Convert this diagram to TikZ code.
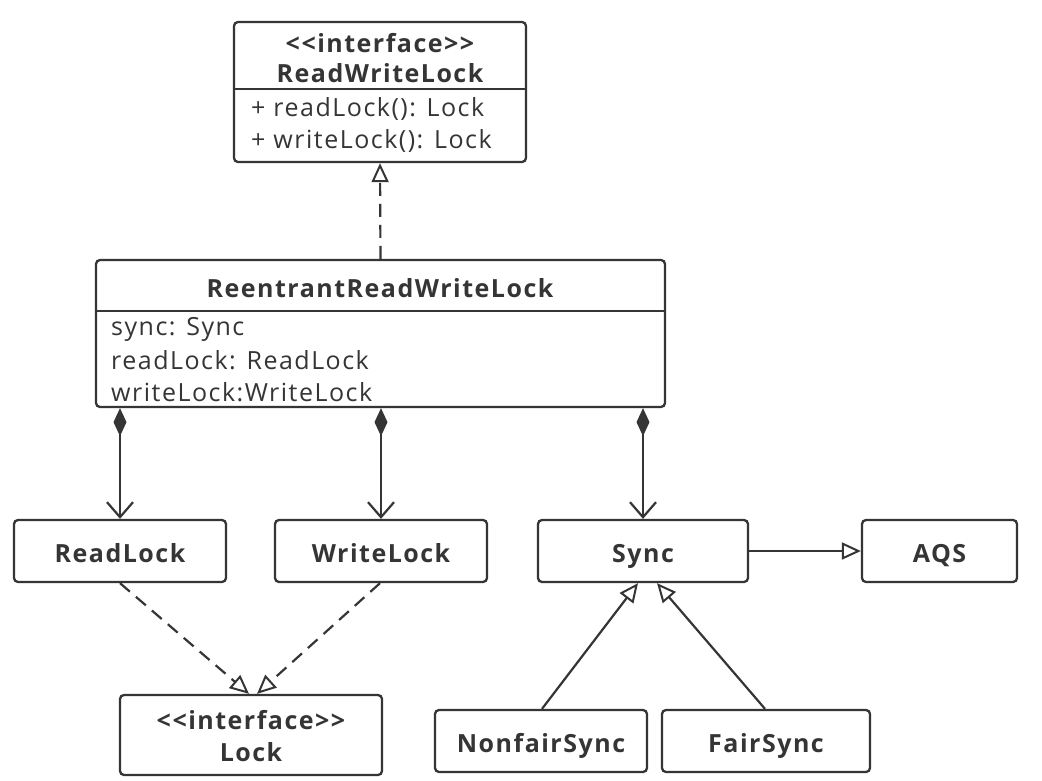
\documentclass[tikz,border=0pt]{standalone}
\usepackage{fontspec}
\setmainfont{Open Sans}[LetterSpace=6]
\usetikzlibrary{arrows.meta,calc}
\definecolor{ink}{HTML}{353535}
\newcommand{\llg}{<\kern1.5pt<}
\newcommand{\rrg}{>\kern1.5pt>}
\tikzset{
  classbox/.style={draw=ink, line width=2.3pt, rounded corners=4pt, fill=white, inner sep=0pt},
  txt/.style={text=ink, inner sep=0pt, font=\fontsize{25}{28}\selectfont},
  btxt/.style={txt, font=\fontsize{25}{28}\selectfont\bfseries, text height=18pt, text depth=0pt},
  boxlabel/.style={btxt, text height=22pt, text depth=0pt},
  conn/.style={draw=ink, line width=2.2pt},
  realize/.style={conn, dash pattern=on 13pt off 8pt, -{Triangle[open, length=19pt, width=17pt, line width=2pt]}},
  inherit/.style={conn, -{Triangle[open, length=19pt, width=17pt, line width=2pt]}},
  compose/.style={conn, {Diamond[fill=ink, length=28pt, width=13pt]}-{Straight Barb[length=15pt, width=26pt, line width=2.2pt]}}
}
\begin{document}
\begin{tikzpicture}[x=1pt,y=-1pt]
\useasboundingbox[fill=white] (0,0) rectangle (1042,780);

% ReadWriteLock interface
\node[classbox, minimum width=292pt, minimum height=140pt] (rwl) at (380,92) {};
\draw[conn] (rwl.west |- 0,89) -- (rwl.east |- 0,89);
\node[btxt] (rwlst) at (380,43) {\llg interface\rrg};
\node[btxt] (rwlname) at (380,73) {ReadWriteLock};
\node[txt, anchor=west] (rwlm1) at (251,109) {+ readLock(): Lock};
\node[txt, anchor=west] (rwlm2) at (251,141) {+ writeLock(): Lock};

% ReentrantReadWriteLock
\node[classbox, minimum width=569pt, minimum height=147pt] (rrwl) at (380.5,333.5) {};
\draw[conn] (rrwl.west |- 0,311) -- (rrwl.east |- 0,311);
\node[btxt] (rrwlname) at (380,288) {ReentrantReadWriteLock};
\node[txt, anchor=west] (a1) at (111,329) {sync: Sync};
\node[txt, anchor=west] (a2) at (111,360) {readLock: ReadLock};
\node[txt, anchor=west] (a3) at (111,392) {writeLock:WriteLock};

% second row
\node[classbox, minimum width=212pt, minimum height=62pt, boxlabel] (readlock) at (120,551) {ReadLock};
\node[classbox, minimum width=212pt, minimum height=62pt, boxlabel] (writelock) at (381,551) {WriteLock};
\node[classbox, minimum width=210pt, minimum height=62pt, boxlabel] (sync) at (643,551) {Sync};
\node[classbox, minimum width=155pt, minimum height=62pt, boxlabel] (aqs) at (939.5,551) {AQS};

% bottom row
\node[classbox, minimum width=262pt, minimum height=80pt] (lock) at (251,735) {};
\node[btxt] (lockst) at (251,720) {\llg interface\rrg};
\node[btxt] (lockname) at (251,752) {Lock};
\node[classbox, minimum width=212pt, minimum height=62pt, boxlabel] (nfs) at (541,741) {NonfairSync};
\node[classbox, minimum width=208pt, minimum height=62pt, boxlabel] (fs) at (766,741) {FairSync};

% connectors
\draw[realize] (rrwl.north) -- (rwl.south);
\draw[compose] (readlock.north |- rrwl.south) -- (readlock.north);
\draw[compose] (writelock.north |- rrwl.south) -- (writelock.north);
\draw[compose] (sync.north |- rrwl.south) -- (sync.north);
\draw[inherit] (sync.east) -- (aqs.west);

\coordinate (rlb) at ($(readlock.south)+(0,0)$);
\coordinate (wlb) at ($(writelock.south)+(-1,0)$);
\coordinate (lk1) at ($(lock.north)+(-2,0)$);
\coordinate (lk2) at ($(lock.north)+(6,0)$);
\draw[realize] (rlb) -- (lk1);
\draw[realize] (wlb) -- (lk2);

\coordinate (nft) at ($(nfs.north)+(1,0)$);
\coordinate (fst) at ($(fs.north)+(-1,0)$);
\coordinate (sy1) at ($(sync.south)+(-5,0)$);
\coordinate (sy2) at ($(sync.south)+(14,0)$);
\draw[inherit] (nft) -- (sy1);
\draw[inherit] (fst) -- (sy2);
\end{tikzpicture}
\end{document}
